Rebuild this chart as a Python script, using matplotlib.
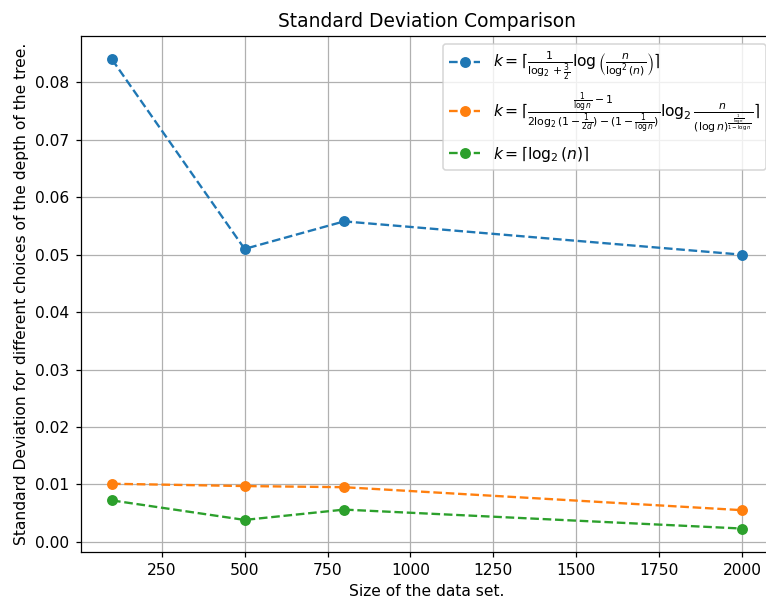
import numpy as np
import matplotlib.pyplot as plt

sizes = [100, 500, 800, 2000]
std_a = [0.0840, 0.0510, 0.0558, 0.0500]
std_b = [0.0101, 0.0097, 0.0095, 0.0055]
std_c = [0.0072, 0.0038, 0.0056, 0.0023]

label_a = r'$k=\lceil\frac{1}{\log_2+\frac{3}{2}}\log\left(\frac{n}{\log^2(n)}\right)\rceil$'
label_b = (r'$k=\lceil\frac{\frac{1}{\log n}-1}{2\log_2(1-\frac{1}{2d})-(1-\frac{1}{\log n})}'
           r'\log_2\frac{n}{(\log n)^{\frac{\frac{1}{\log n}}{1-\log n}}}\rceil$')
label_c = r'$k=\lceil\log_2(n)\rceil$'

W, H = 766, 602
fig = plt.figure(figsize=(W/112, H/112), dpi=112)
ax = fig.add_axes([80.5/W, 1-552/H, (773.5-80.5)/W, (552-36)/H])
ax.plot(sizes, std_a, 'o--', label=label_a)
ax.plot(sizes, std_b, 'o--', label=label_b)
ax.plot(sizes, std_c, 'o--', label=label_c)
ax.set_title('Standard Deviation Comparison')
ax.set_xlabel('Size of the data set.')
ax.set_ylabel('Standard Deviation for different choices of the depth of the tree.')
ax.grid(True)
ax.legend(loc='upper right', bbox_to_anchor=(1.0, 1.0), borderaxespad=0.5)
fig.savefig('out.png', dpi=112)
